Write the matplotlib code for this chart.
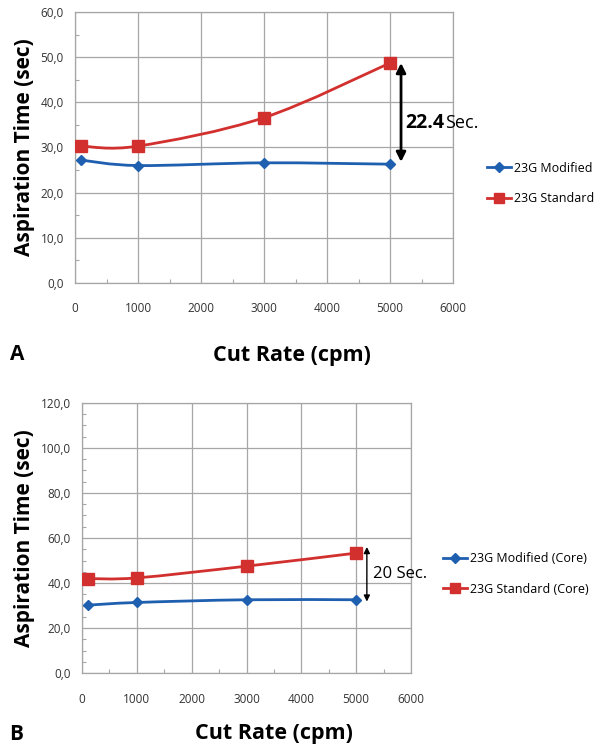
import matplotlib
matplotlib.use('Agg')
import matplotlib.pyplot as plt
from matplotlib.path import Path
from matplotlib.patches import PathPatch
from matplotlib.lines import Line2D
import numpy as np

plt.rcParams['font.family'] = ['Open Sans', 'DejaVu Sans']

# data
cut_rate = [100, 1000, 3000, 5000]
a_modified = [27.2, 26.0, 26.6, 26.3]
a_standard = [30.3, 30.3, 36.6, 48.7]
b_modified = [30.2, 31.4, 32.6, 32.6]
b_standard = [42.0, 42.3, 47.5, 53.3]

a_labels = ['23G Modified', '23G Standard']
b_labels = ['23G Modified (Core)', '23G Standard (Core)']
a_diff = '22.4'
b_diff = '20 Sec.'

blue = '#1f5fb0'
red = '#d2302e'
grid_c = '#a6a6a6'


def smooth_path(x, y):
    # excel style smoothed line: bezier segments with catmull-rom control points
    pts = np.column_stack([x, y]).astype(float)
    n = len(pts)
    verts = [pts[0]]
    codes = [Path.MOVETO]
    for i in range(n - 1):
        p0 = pts[i - 1] if i > 0 else pts[i]
        p1 = pts[i]
        p2 = pts[i + 1]
        p3 = pts[i + 2] if i + 2 < n else pts[i + 1]
        c1 = p1 + (p2 - p0) / 6.0
        c2 = p2 - (p3 - p1) / 6.0
        verts += [c1, c2, p2]
        codes += [Path.CURVE4] * 3
    return Path(verts, codes)


def draw_panel(ax, ymax, ystep, mod, std, labels, leg_anchor):
    for vals, col, mk, ms in [(mod, blue, 'D', 5.5), (std, red, 's', 8)]:
        ax.add_patch(PathPatch(smooth_path(cut_rate, vals), fc='none', ec=col, lw=2, zorder=3))
        ax.plot(cut_rate, vals, ls='none', marker=mk, ms=ms, color=col, zorder=4)
    ax.set_xlim(0, 6000)
    ax.set_ylim(0, ymax)
    ax.set_xticks(np.arange(0, 6001, 1000))
    ax.set_yticks(np.arange(0, ymax + 0.1, ystep))
    ax.set_xticks(np.arange(500, 6000, 1000), minor=True)
    ax.set_yticks(np.arange(0, ymax + 0.1, 5), minor=True)
    ax.set_yticklabels([('%.1f' % v).replace('.', ',') for v in np.arange(0, ymax + 0.1, ystep)])
    ax.grid(True, which='major', color=grid_c, lw=0.9)
    ax.tick_params(which='major', length=0, labelsize=8.5, labelcolor='#333333')
    ax.tick_params(axis='y', which='major', pad=8)
    ax.tick_params(axis='x', which='major', pad=14)
    ax.tick_params(which='minor', direction='in', length=3, color=grid_c, width=0.8)
    for s in ax.spines.values():
        s.set_color(grid_c)
        s.set_linewidth(0.9)
    ax.set_ylabel('Aspiration Time (sec)', fontsize=15, fontweight='bold', labelpad=4)
    handles = [Line2D([], [], color=blue, lw=2, marker='D', ms=5),
               Line2D([], [], color=red, lw=2, marker='s', ms=7)]
    ax.legend(handles, labels, loc='center left', bbox_to_anchor=leg_anchor,
              bbox_transform=ax.figure.transFigure, frameon=False, fontsize=9,
              handlelength=1.9, handletextpad=0.25, labelspacing=1.4, numpoints=1,
              borderpad=0, borderaxespad=0)


fig = plt.figure(figsize=(6, 7.51), dpi=100)

ax1 = fig.add_axes([0.125, 0.6232, 0.63, 0.3609])
draw_panel(ax1, 60, 10, a_modified, a_standard, a_labels, (0.812, 0.7557))
ax1.annotate('', xy=(5175, a_standard[3]), xytext=(5175, 26.8),
             arrowprops=dict(arrowstyle='<|-|>', color='black', lw=2,
                             mutation_scale=14, shrinkA=0, shrinkB=0))
t = ax1.text(5240, 35.4, a_diff, fontsize=14, fontweight='bold', va='center', ha='left')
ax1.annotate('Sec.', xy=(1, 0.5), xycoords=t, xytext=(1, 0), textcoords='offset points',
             fontsize=13, va='center', ha='left')
fig.text(0.017, 1 - 355 / 751, 'A', fontsize=15, fontweight='bold', va='center')
fig.text(0.487, 1 - 355 / 751, 'Cut Rate (cpm)', fontsize=15.5, fontweight='bold',
         ha='center', va='center')

ax2 = fig.add_axes([0.1367, 0.1035, 0.5483, 0.3603])
draw_panel(ax2, 120, 20, b_modified, b_standard, b_labels, (0.738, 0.2357))
ax2.annotate('', xy=(5195, 56.0), xytext=(5195, 31.8),
             arrowprops=dict(arrowstyle='<|-|>', color='black', lw=1,
                             mutation_scale=9, shrinkA=0, shrinkB=0))
ax2.text(5300, 44, b_diff, fontsize=12, va='center', ha='left')
fig.text(0.015, 1 - 735 / 751, 'B', fontsize=15, fontweight='bold', va='center')
fig.text(0.457, 1 - 733 / 751, 'Cut Rate (cpm)', fontsize=15.5, fontweight='bold',
         ha='center', va='center')

fig.savefig('out.png', dpi=100)
